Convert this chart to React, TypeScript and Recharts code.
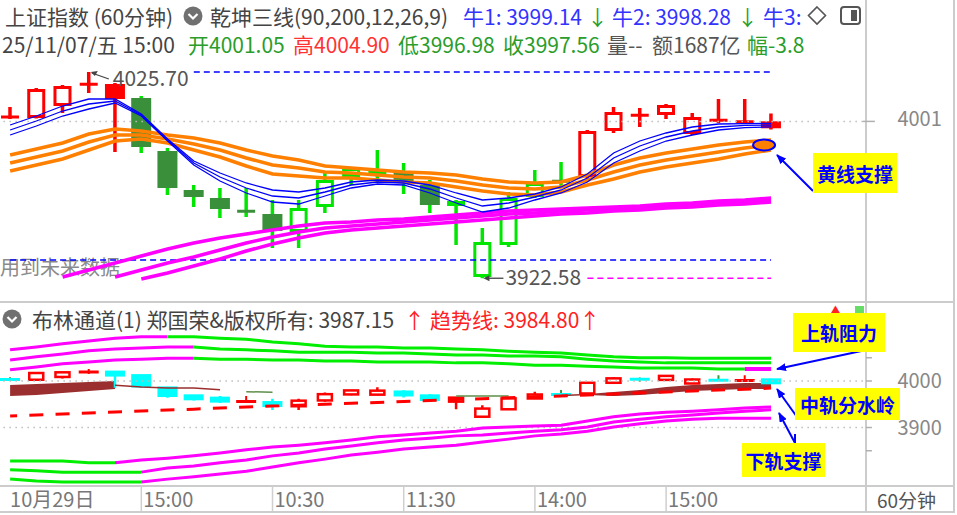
import React from "react";
import {
  Area,
  Bar,
  ComposedChart,
  Line,
  ReferenceDot,
  ReferenceLine,
  XAxis,
  YAxis,
} from "recharts";

const FONT = '"Noto Sans CJK SC", "Noto Sans", sans-serif';

// 上证指数 60分钟 K线 (30根)
const barOpen = [4003.4, 4002.7, 4008.7, 4019.5, 4019.7, 4012.7, 3986.2, 3966.7, 3962.7, 3955.9, 3954.7, 3945.7, 3958.2, 3973.2, 3973.7, 3975.7, 3969.2, 3958.7, 3923.2, 3939.2, 3963.2, 3971.2, 3973.2, 3996.2, 4004.2, 4004.2, 3994.7, 4001.7, 4000.7, 4001.05];
const barHigh = [4008.2, 4017.7, 4019.2, 4025.7, 4020.2, 4013.7, 3987.7, 3969.2, 3967.7, 3967.7, 3961.7, 3961.7, 3975.2, 3978.2, 3986.7, 3980.2, 3971.7, 3961.7, 3947.7, 3965.7, 3976.7, 3980.7, 3996.7, 4008.2, 4007.7, 4009.7, 4005.2, 4012.2, 4012.2, 4004.9];
const barLow = [4002.2, 4002.5, 4005.2, 4015.2, 3985.7, 3985.2, 3964.2, 3958.2, 3952.7, 3953.2, 3937.7, 3937.7, 3955.2, 3969.2, 3970.7, 3964.7, 3955.2, 3939.2, 3922.58, 3938.2, 3962.7, 3967.7, 3972.7, 3995.2, 3998.2, 4002.2, 3994.2, 4000.2, 4000.2, 3996.98];
const barClose = [4003.0, 4017.2, 4018.7, 4019.7, 4012.2, 3988.2, 3967.7, 3963.2, 3957.2, 3956.2, 3946.2, 3957.7, 3971.7, 3977.7, 3976.2, 3970.7, 3959.2, 3961.2, 3940.7, 3962.7, 3970.2, 3970.9, 3996.2, 4005.7, 4003.9, 4009.2, 4003.2, 4001.4, 4001.0, 3997.56];
// 乾坤三线 状态: r = 多(红), g = 空(绿)
const trendSide = "rrrrrgggggggggggggggggrrrrrrrr".split("");

// 乾坤三线 - 蓝线(牛1/牛2/牛3)
const blue1 = [3999.2, 4003.7, 4008.7, 4012.2, 4012.2, 4004.7, 3992.2, 3981.2, 3975.2, 3970.2, 3966.7, 3965.7, 3967.7, 3970.7, 3971.7, 3971.2, 3969.2, 3965.2, 3961.7, 3962.7, 3964.7, 3968.2, 3974.7, 3985.2, 3991.2, 3995.2, 3998.2, 3999.7, 3999.9, 4000.0];
const blue2 = [3996.7, 4001.2, 4006.2, 4009.7, 4011.2, 4004.2, 3991.7, 3980.2, 3973.2, 3967.7, 3963.7, 3962.7, 3965.7, 3969.2, 3970.7, 3970.2, 3967.2, 3962.7, 3958.7, 3960.2, 3963.2, 3966.7, 3972.7, 3982.7, 3988.7, 3993.2, 3996.2, 3998.2, 3999.0, 3999.14];
const blue3 = [3994.2, 3998.7, 4003.7, 4007.2, 4010.2, 4003.7, 3991.2, 3979.2, 3971.2, 3965.2, 3960.7, 3959.7, 3963.7, 3967.7, 3969.7, 3969.2, 3965.2, 3960.2, 3955.7, 3957.7, 3961.7, 3965.2, 3970.7, 3980.2, 3986.2, 3991.2, 3994.2, 3996.7, 3997.9, 3998.28];
// 黄线 (橙)
const orange1 = [3984.2, 3987.2, 3990.2, 3994.7, 3997.2, 3996.2, 3994.2, 3992.7, 3990.2, 3986.7, 3983.7, 3981.7, 3978.7, 3977.7, 3976.7, 3975.7, 3975.2, 3974.2, 3972.2, 3970.7, 3970.2, 3970.7, 3974.2, 3979.2, 3982.7, 3985.2, 3987.2, 3989.2, 3990.7, 3991.7];
const orange2 = [3980.2, 3983.2, 3986.2, 3990.7, 3994.2, 3994.2, 3992.2, 3989.7, 3986.7, 3982.7, 3979.2, 3977.7, 3975.7, 3975.2, 3974.2, 3973.2, 3972.7, 3971.2, 3969.2, 3967.7, 3967.2, 3968.2, 3971.7, 3975.7, 3979.2, 3981.7, 3983.7, 3985.7, 3987.7, 3989.2];
const orange3 = [3976.2, 3979.2, 3982.2, 3986.7, 3991.2, 3992.2, 3990.2, 3986.7, 3983.2, 3978.7, 3974.7, 3973.7, 3972.7, 3972.7, 3971.7, 3970.7, 3970.2, 3968.2, 3966.2, 3964.7, 3964.2, 3965.7, 3969.2, 3972.2, 3975.7, 3978.2, 3980.2, 3982.2, 3984.7, 3986.7];
// 长期线 (品红)
const pink1 = [null, null, 3923.2, 3926.7, 3930.2, 3933.7, 3937.2, 3940.2, 3942.7, 3944.7, 3946.7, 3948.7, 3950.2, 3950.7, 3951.7, 3952.2, 3953.2, 3954.2, 3955.2, 3956.2, 3956.7, 3957.2, 3957.7, 3958.2, 3958.7, 3959.7, 3960.2, 3961.2, 3961.7, 3962.7];
const pink2 = [null, null, null, null, 3923.2, 3926.7, 3930.2, 3933.2, 3936.7, 3940.2, 3943.2, 3945.7, 3947.7, 3948.7, 3949.7, 3950.7, 3951.7, 3952.7, 3953.7, 3954.7, 3955.2, 3956.2, 3956.7, 3957.2, 3957.7, 3958.7, 3959.2, 3960.2, 3960.7, 3961.7];
const pink3 = [null, null, null, null, null, 3922.2, 3925.2, 3928.7, 3932.2, 3936.2, 3939.7, 3942.7, 3945.2, 3946.7, 3947.7, 3948.7, 3949.7, 3950.7, 3951.7, 3952.7, 3953.7, 3954.7, 3955.2, 3956.2, 3956.7, 3957.7, 3958.2, 3959.2, 3959.7, 3960.7];
const supportLevel = 3931.7;

// 布林通道
const bollUp1 = [4067, 4073, 4080, 4086, 4092, 4095, 4095, 4095, 4092, 4090, 4084, 4080, 4075, 4073, 4073, 4071, 4071, 4069, 4067, 4064, 4062, 4060, 4056, 4052, 4050, 4050, 4049, 4049, 4049, 4049];
const bollUp2 = [4045, 4052, 4058, 4065, 4069, 4071, 4073, 4073, 4069, 4067, 4065, 4062, 4062, 4062, 4060, 4060, 4058, 4056, 4056, 4054, 4054, 4052, 4047, 4043, 4041, 4039, 4039, 4039, 4039, 4039];
const bollUp3 = [4024, 4030, 4037, 4041, 4045, 4047, 4049, 4049, 4047, 4047, 4045, 4045, 4043, 4043, 4041, 4041, 4041, 4039, 4039, 4037, 4034, 4034, 4032, 4030, 4028, 4028, 4028, 4026, 4026, 4026];
const bollDn1 = [3828, 3828, 3828, 3824, 3824, 3830, 3834, 3839, 3845, 3852, 3858, 3862, 3867, 3873, 3880, 3884, 3888, 3892, 3899, 3901, 3903, 3905, 3914, 3923, 3929, 3933, 3935, 3938, 3942, 3944];
const bollDn2 = [3809, 3807, 3804, 3804, 3804, 3804, 3813, 3817, 3824, 3830, 3839, 3845, 3854, 3860, 3867, 3873, 3877, 3882, 3884, 3888, 3892, 3895, 3901, 3912, 3918, 3923, 3927, 3931, 3935, 3938];
const bollDn3 = [3789, 3785, 3783, 3783, 3783, 3783, 3789, 3794, 3800, 3806, 3815, 3824, 3832, 3841, 3847, 3854, 3858, 3862, 3869, 3875, 3882, 3886, 3892, 3901, 3908, 3914, 3918, 3920, 3920, 3920];
// 上轨: 品红段结束位置; 下轨: 品红段开始位置
const upMagentaEnd = [6, 7, 7];
const up3MagentaAgain = 28;
const dnMagentaStart = [4, 5, 5];
// 中轨 (粗段 = 区间, 细段 = 线)
const midHi = [3991.4, 3993.5, 3995.7, 3997.8, 4000.0, null, null, null, null, null, null, null, null, null, null, null, null, null, null, null, null, null, 3972.0, 3976.3, 3980.6, 3987.1, 3991.4, 3993.5, 3995.7, 3995.7];
const midLo = [3967.7, 3969.9, 3974.2, 3978.5, 3982.8, null, null, null, null, null, null, null, null, null, null, null, null, null, null, null, null, null, 3970.0, 3967.7, 3969.9, 3974.2, 3978.5, 3980.6, 3982.8, 3982.8];
const midThinBrown = [null, null, null, null, 3991, 3987, 3985, 3985, 3981, null, null, null, null, null, null, null, null, null, null, null, null, 3969, 3971, null, null, null, null, null, null, null];
const midThinOlive = [null, null, null, null, null, null, null, null, null, 3977, 3976, null, null, null, null, null, null, 3968, 3967.7, 3967.7, null, null, null, null, null, null, null, null, null, null];
const trendLine = [3924.7, 3927, 3929, 3931, 3933.5, 3935.5, 3937.5, 3939.5, 3942, 3944, 3946, 3948, 3950, 3952, 3954, 3956, 3958, 3960, 3962, 3964, 3966, 3968, 3970, 3972, 3974.5, 3976.5, 3978.5, 3980.5, 3982.5, 3984.8];
const bollMidLast = 3987.15;

const timeTicks = [0, 5, 10, 15, 20, 25];
const timeLabels = ["10月29日", "15:00", "10:30", "11:30", "14:00", "15:00"];

const SLOTS = 33;
const part = (arr: (number | null)[], from: number, to: number) =>
  arr.map((v, i) => (i >= from && i <= to ? v : null));

const series: Record<string, (number | null)[]> = {
  b1: blue1, b2: blue2, b3: blue3,
  o1: orange1, o2: orange2, o3: orange3,
  p1: pink1, p2: pink2, p3: pink3,
  u1m: part(bollUp1, 0, upMagentaEnd[0]), u1g: part(bollUp1, upMagentaEnd[0], 29),
  u2m: part(bollUp2, 0, upMagentaEnd[1]), u2g: part(bollUp2, upMagentaEnd[1], 29),
  u3m: part(bollUp3, 0, upMagentaEnd[2]), u3g: part(bollUp3, upMagentaEnd[2], up3MagentaAgain),
  u3m2: part(bollUp3, up3MagentaAgain, 29),
  d1g: part(bollDn1, 0, dnMagentaStart[0]), d1m: part(bollDn1, dnMagentaStart[0], 29),
  d2g: part(bollDn2, 0, dnMagentaStart[1]), d2m: part(bollDn2, dnMagentaStart[1], 29),
  d3g: part(bollDn3, 0, dnMagentaStart[2]), d3m: part(bollDn3, dnMagentaStart[2], 29),
  midBrown: midThinBrown, midOlive: midThinOlive, trend: trendLine,
};

const rows = Array.from({ length: SLOTS }, (_, i) => {
  const has = i < barOpen.length;
  const row: any = {
    i,
    open: has ? barOpen[i] : null,
    high: has ? barHigh[i] : null,
    low: has ? barLow[i] : null,
    close: has ? barClose[i] : null,
    range: has ? [barLow[i], barHigh[i]] : null,
    side: has ? trendSide[i] : null,
    midBand: midHi[i] != null && midLo[i] != null ? [midLo[i], midHi[i]] : null,
  };
  Object.keys(series).forEach((k) => {
    row[k] = series[k][i] ?? null;
  });
  return row;
});

const hiIdx = barHigh.indexOf(Math.max(...barHigh));
const loIdx = barLow.indexOf(Math.min(...barLow));
const last = barOpen.length - 1;

const RED = "#ff0000";
const GREEN = "#00e600";
const DKGREEN = "#3a8f3a";
const CYAN = "#00ffff";
const ORANGE = "#ff8000";
const MAGENTA = "#ff00ff";
const BLUE = "#0000ff";
const LGREEN = "#00ee00";

const geom = (p: any) => {
  const top = p.height >= 0 ? p.y : p.y + p.height;
  const h = Math.abs(p.height);
  const d = p.payload;
  const k = d.high - d.low > 0 ? h / (d.high - d.low) : 0;
  const py = (v: number) => top + (d.high - v) * k;
  return { top, bottom: top + h, py, d };
};

const MainCandle = (p: any) => {
  if (!p.payload || p.payload.high == null) return null;
  const { top, bottom, py, d } = geom(p);
  const { x, width } = p;
  const cx = x + width / 2;
  const yO = py(d.open);
  const yC = py(d.close);
  const red = d.side === "r";
  const wick = red ? RED : GREEN;
  if (Math.abs(d.open - d.close) < 1) {
    const yb = (yO + yC) / 2;
    return (
      <g>
        <line x1={cx} x2={cx} y1={top} y2={bottom} stroke={wick} strokeWidth={3.5} />
        <line x1={x + 1} x2={x + width - 1} y1={yb} y2={yb} stroke={red ? RED : DKGREEN} strokeWidth={3} />
      </g>
    );
  }
  const bt = Math.min(yO, yC);
  const bb = Math.max(yO, yC);
  if (d.close > d.open) {
    const col = red ? RED : GREEN;
    return (
      <g>
        <line x1={cx} x2={cx} y1={top} y2={bt} stroke={col} strokeWidth={3.5} />
        <line x1={cx} x2={cx} y1={bb} y2={bottom} stroke={col} strokeWidth={3.5} />
        <rect x={x + 2.5} y={bt + 1.5} width={width - 5} height={Math.max(1, bb - bt - 3)} fill="#fff" stroke={col} strokeWidth={3} />
      </g>
    );
  }
  return (
    <g>
      <line x1={cx} x2={cx} y1={top} y2={bottom} stroke={wick} strokeWidth={3.5} />
      <rect x={x} y={bt} width={width} height={bb - bt} fill={red ? RED : DKGREEN} />
    </g>
  );
};

const SmallCandle = (p: any) => {
  if (!p.payload || p.payload.high == null) return null;
  const { top, bottom, py, d } = geom(p);
  const { x, width } = p;
  const cx = x + width / 2;
  const yO = py(d.open);
  const yC = py(d.close);
  const up = d.close >= d.open;
  const col = up ? RED : CYAN;
  if (Math.abs(d.open - d.close) < 1) {
    const yb = (yO + yC) / 2;
    return (
      <g>
        <line x1={cx} x2={cx} y1={top} y2={bottom} stroke={up ? RED : "#3a9a3a"} strokeWidth={2} />
        <line x1={x} x2={x + width} y1={yb} y2={yb} stroke={col} strokeWidth={3} />
      </g>
    );
  }
  let bt = Math.min(yO, yC);
  let bb = Math.max(yO, yC);
  if (bb - bt < 4) {
    const m = (bt + bb) / 2;
    bt = m - 2;
    bb = m + 2;
  }
  if (up) {
    return (
      <g>
        <line x1={cx} x2={cx} y1={top} y2={bottom} stroke={RED} strokeWidth={2.5} />
        <rect x={x + 3} y={bt} width={width - 6} height={bb - bt} fill="#fff" stroke={RED} strokeWidth={2.5} />
      </g>
    );
  }
  return (
    <g>
      <line x1={cx} x2={cx} y1={top} y2={bottom} stroke={CYAN} strokeWidth={2.5} />
      <rect x={x} y={bt - 1} width={width} height={bb - bt + 2} fill={CYAN} />
    </g>
  );
};

const MainPriceTick = (p: any) => (
  <g>
    <line x1={p.x} x2={p.x + 12} y1={p.y} y2={p.y} stroke="#b0b0b0" strokeWidth={1.5} />
    <text x={p.x + 34.5} y={p.y - 2} dy="0.35em" fill="#888" fontSize={20} fontFamily={FONT}>
      {p.payload.value}
    </text>
  </g>
);

const BollTick = (p: any) => (
  <g>
    <line x1={p.x + 3} x2={p.x + 9} y1={p.y} y2={p.y} stroke="#b0b0b0" strokeWidth={1.5} />
    {p.payload.value % 100 === 0 && (
      <text x={p.x + 34.5} y={p.y} dy="0.35em" fill="#888" fontSize={20} fontFamily={FONT}>
        {p.payload.value}
      </text>
    )}
  </g>
);

const TimeTick = (p: any) => {
  const k = timeTicks.indexOf(p.payload.value);
  return (
    <g>
      {k > 0 && <line x1={p.x} x2={p.x} y1={p.y + 1} y2={p.y + 25} stroke="#cfcfcf" strokeWidth={1.5} />}
      <text x={p.x + (k > 0 ? 2 : 0)} y={p.y + 14} dy="0.35em" fill="#777" fontSize={20} fontFamily={FONT}>
        {timeLabels[k]}
      </text>
    </g>
  );
};

const HighMark = (p: any) => (
  <g>
    <line x1={p.cx + 3} y1={p.cy + 1} x2={p.cx + 20} y2={p.cy + 7} stroke="#444" strokeWidth={1.3} />
    <path d={`M${p.cx + 2},${p.cy} l7,-1 l-3,5 z`} fill="#444" />
    <text x={p.cx + 24} y={p.cy + 7} dy="0.35em" fill="#555" fontSize={21} fontFamily={FONT}>
      {barHigh[hiIdx].toFixed(2)}
    </text>
  </g>
);

const LowMark = (p: any) => (
  <g>
    <line x1={p.cx + 3} y1={p.cy} x2={p.cx + 21} y2={p.cy} stroke="#444" strokeWidth={1.3} />
    <path d={`M${p.cx + 1},${p.cy} l6,-3 l0,6 z`} fill="#444" />
    <text x={p.cx + 23} y={p.cy - 1} dy="0.35em" fill="#555" fontSize={21} fontFamily={FONT}>
      {barLow[loIdx].toFixed(2)}
    </text>
  </g>
);

const SupportRing = (p: any) => (
  <ellipse cx={p.cx - 7} cy={p.cy} rx={11} ry={5.5} fill={ORANGE} stroke={BLUE} strokeWidth={2} />
);

const ln = (key: string, color: string, w: number) => (
  <Line
    key={key}
    dataKey={key}
    stroke={color}
    strokeWidth={w}
    dot={false}
    activeDot={false}
    isAnimationActive={false}
    type="linear"
  />
);

const Chevron = ({ x, y }: { x: number; y: number }) => (
  <svg style={{ position: "absolute", left: x - 10, top: y - 10 }} width={20} height={20}>
    <circle cx={10} cy={10} r={9.5} fill="#707070" />
    <path d="M5.5,8 L10,12.5 L14.5,8" fill="none" stroke="#fff" strokeWidth={2.2} />
  </svg>
);

const T = ({ x, y, c, s = 21, w = 400, children }: any) => (
  <span
    style={{
      position: "absolute",
      left: x,
      top: y,
      color: c,
      fontSize: s,
      fontWeight: w,
      lineHeight: "22px",
      whiteSpace: "nowrap",
    }}
  >
    {children}
  </span>
);

const Tag = ({ x, y, w, h, children }: any) => (
  <div
    style={{
      position: "absolute",
      left: x,
      top: y,
      width: w,
      height: h,
      background: "#ffff00",
      color: BLUE,
      fontWeight: 700,
      fontSize: 19,
      display: "flex",
      alignItems: "center",
      justifyContent: "center",
      whiteSpace: "nowrap",
    }}
  >
    {children}
  </div>
);

const GRID = "#cccccc";
const GRAY = "#444";
const TXTGREEN = "#2a9d2a";

export default function App() {
  return (
    <div
      style={{
        position: "absolute",
        left: 0,
        top: 0,
        width: 957,
        height: 515,
        background: "#fff",
        overflow: "hidden",
        fontFamily: FONT,
      }}
    >
      {/* 面板边框 */}
      <div style={{ position: "absolute", left: 865, top: 0, width: 2, height: 513, background: GRID }} />
      <div style={{ position: "absolute", left: 953, top: 0, width: 2, height: 513, background: GRID }} />
      <div style={{ position: "absolute", left: 0, top: 301, width: 955, height: 2, background: GRID }} />
      <div style={{ position: "absolute", left: 0, top: 485, width: 955, height: 2, background: GRID }} />
      <div style={{ position: "absolute", left: 0, top: 511, width: 955, height: 2, background: GRID }} />

      {/* 主图标题 */}
      <T x={5} y={5} c={GRAY}>上证指数 (60分钟)</T>
      <Chevron x={193} y={16} />
      <T x={210} y={5} c={GRAY}>乾坤三线(90,200,12,26,9)</T>
      <T x={463} y={5} c="#3333ff">牛1: {blue2[last].toFixed(2)}</T>
      <T x={587} y={5} c={TXTGREEN}>↓</T>
      <T x={612} y={5} c="#3333ff">牛2: {blue3[last].toFixed(2)}</T>
      <T x={737} y={5} c={TXTGREEN}>↓</T>
      <T x={763} y={5} c="#3333ff">牛3:</T>
      <svg style={{ position: "absolute", left: 806, top: 5 }} width={60} height={22}>
        <path d="M11,2 L19.5,10.5 L11,19 L2.5,10.5 Z" fill="none" stroke="#555" strokeWidth={1.6} />
        <rect x={35} y={2} width={19} height={17} rx={3} fill="none" stroke="#555" strokeWidth={2} />
        <rect x={45} y={5} width={6} height={11} fill="#555" />
      </svg>

      <T x={2} y={33} c={GRAY}>25/11/07/五 15:00</T>
      <T x={188} y={33} c={TXTGREEN}>开{barOpen[last].toFixed(2)}</T>
      <T x={293} y={33} c="#ff3333">高{barHigh[last].toFixed(2)}</T>
      <T x={398} y={33} c={TXTGREEN}>低{barLow[last].toFixed(2)}</T>
      <T x={503} y={33} c={TXTGREEN}>收{barClose[last].toFixed(2)}</T>
      <T x={607} y={33} c="#555">量--</T>
      <T x={652} y={33} c="#555">额1687亿</T>
      <T x={747} y={33} c={TXTGREEN}>幅-3.8</T>

      <T x={0} y={256} c="#8a8a8a" s={20}>用到未来数据</T>

      {/* 主图 */}
      <div style={{ position: "absolute", left: -3.12, top: 28 }}>
        <ComposedChart width={960.12} height={270} data={rows} margin={{ top: 0, right: 0, bottom: 0, left: 0 }}>
          <XAxis dataKey="i" hide />
          <YAxis
            orientation="right"
            width={94.2}
            domain={[3912.7, 4047.7]}
            allowDataOverflow
            ticks={[4001]}
            tick={(p: any) => <MainPriceTick {...p} />}
            tickSize={0}
            tickMargin={0}
            axisLine={false}
            tickLine={false}
          />
          <ReferenceLine y={4001} stroke="#bdbdbd" strokeDasharray="1.5 4.5" strokeWidth={1.5} />
          <ReferenceLine
            segment={[{ x: 7, y: barHigh[hiIdx] }, { x: last, y: barHigh[hiIdx] }]}
            stroke={BLUE}
            strokeDasharray="6 4"
            strokeWidth={1.5}
          />
          <ReferenceLine
            segment={[{ x: 0, y: supportLevel }, { x: last, y: supportLevel }]}
            stroke={BLUE}
            strokeDasharray="6 4"
            strokeWidth={1.5}
          />
          <ReferenceLine
            segment={[{ x: 22, y: barLow[loIdx] }, { x: last, y: barLow[loIdx] }]}
            stroke={MAGENTA}
            strokeDasharray="6 4"
            strokeWidth={1.5}
          />
          {ln("p3", MAGENTA, 3.5)}
          {ln("p2", MAGENTA, 3.5)}
          {ln("p1", MAGENTA, 3.5)}
          {ln("o3", ORANGE, 3.5)}
          {ln("o2", ORANGE, 3.5)}
          {ln("o1", ORANGE, 3.5)}
          {ln("b3", BLUE, 1.3)}
          {ln("b2", BLUE, 1.3)}
          {ln("b1", BLUE, 1.3)}
          <Bar dataKey="range" barSize={20} isAnimationActive={false} shape={(p: any) => <MainCandle {...p} />} />
          <ReferenceDot x={hiIdx} y={barHigh[hiIdx]} r={0} shape={(p: any) => <HighMark {...p} />} />
          <ReferenceDot x={loIdx} y={barLow[loIdx]} r={0} shape={(p: any) => <LowMark {...p} />} />
          <ReferenceDot x={last} y={orange2[last]} r={0} shape={(p: any) => <SupportRing {...p} />} />
        </ComposedChart>
      </div>

      {/* 副图标题 */}
      <Chevron x={12} y={319} />
      <T x={32} y={308} c={GRAY}>布林通道(1) 郑国荣&版权所有: {bollMidLast.toFixed(2)}</T>
      <T x={404} y={308} c="#ff2222">↑</T>
      <T x={430} y={308} c="#ff2222">趋势线: {trendLine[last].toFixed(2)}↑</T>
      <T x={829} y={300} c="#ff2222" s={13}>▲</T>
      <div style={{ position: "absolute", left: 855, top: 306, width: 9, height: 7, background: "#66dd66" }} />

      {/* 布林通道 */}
      <div style={{ position: "absolute", left: -3.12, top: 330 }}>
        <ComposedChart width={960.12} height={183} data={rows} margin={{ top: 0, right: 0, bottom: 0, left: 0 }}>
          <XAxis
            dataKey="i"
            ticks={timeTicks}
            interval={0}
            height={27}
            tickSize={0}
            tickMargin={0}
            axisLine={false}
            tickLine={false}
            tick={(p: any) => <TimeTick {...p} />}
          />
          <YAxis
            orientation="right"
            width={94.2}
            domain={[3774.2, 4109.7]}
            allowDataOverflow
            ticks={[4100, 4050, 4000, 3950, 3900, 3850]}
            tick={(p: any) => <BollTick {...p} />}
            tickSize={0}
            tickMargin={0}
            axisLine={false}
            tickLine={false}
          />
          <ReferenceLine y={4000} stroke="#bdbdbd" strokeDasharray="1.5 4.5" strokeWidth={1.5} />
          <ReferenceLine y={3900} stroke="#bdbdbd" strokeDasharray="1.5 4.5" strokeWidth={1.5} />
          {ln("u1m", MAGENTA, 3)}
          {ln("u1g", LGREEN, 3)}
          {ln("u2m", MAGENTA, 3)}
          {ln("u2g", LGREEN, 3)}
          {ln("u3m", MAGENTA, 3)}
          {ln("u3g", LGREEN, 3)}
          {ln("u3m2", MAGENTA, 4)}
          {ln("d1g", LGREEN, 3)}
          {ln("d1m", MAGENTA, 3)}
          {ln("d2g", LGREEN, 3)}
          {ln("d2m", MAGENTA, 3)}
          {ln("d3g", LGREEN, 3)}
          {ln("d3m", MAGENTA, 3)}
          <Area dataKey="midBand" stroke="none" fill="#9b2f2f" fillOpacity={1} isAnimationActive={false} activeDot={false} />
          {ln("midBrown", "#9b2f2f", 1.5)}
          {ln("midOlive", "#5f8f4a", 1.5)}
          <Line
            dataKey="trend"
            stroke={RED}
            strokeWidth={3}
            strokeDasharray="14 12.24"
            strokeDashoffset={7}
            dot={false}
            activeDot={false}
            isAnimationActive={false}
          />
          <Bar dataKey="range" barSize={20} isAnimationActive={false} shape={(p: any) => <SmallCandle {...p} />} />
        </ComposedChart>
      </div>

      <T x={877} y={489} c="#555" s={19}>60分钟</T>

      {/* 标注 */}
      <svg style={{ position: "absolute", left: 0, top: 0, pointerEvents: "none" }} width={957} height={515}>
        <defs>
          <marker id="ah" markerWidth="10" markerHeight="8" refX="9" refY="4" orient="auto" markerUnits="userSpaceOnUse">
            <path d="M0,0 L10,4 L0,8 z" fill={BLUE} />
          </marker>
        </defs>
        <line x1={813} y1={191} x2={777} y2={155} stroke={BLUE} strokeWidth={2} markerEnd="url(#ah)" />
        <line x1={866} y1={350} x2={777} y2={369} stroke={BLUE} strokeWidth={2} markerEnd="url(#ah)" />
        <line x1={797} y1={417} x2={777} y2={389} stroke={BLUE} strokeWidth={2} markerEnd="url(#ah)" />
        <line x1={795} y1={443} x2={795} y2={434} stroke={BLUE} strokeWidth={2} />
        <line x1={795} y1={443} x2={779} y2={413} stroke={BLUE} strokeWidth={2} markerEnd="url(#ah)" />
      </svg>
      <Tag x={813} y={153} w={84} h={40}>黄线支撑</Tag>
      <Tag x={793} y={313} w={92} h={39}>上轨阻力</Tag>
      <Tag x={795} y={388} w={105} h={32}>中轨分水岭</Tag>
      <Tag x={742} y={443} w={83} h={34}>下轨支撑</Tag>
    </div>
  );
}
